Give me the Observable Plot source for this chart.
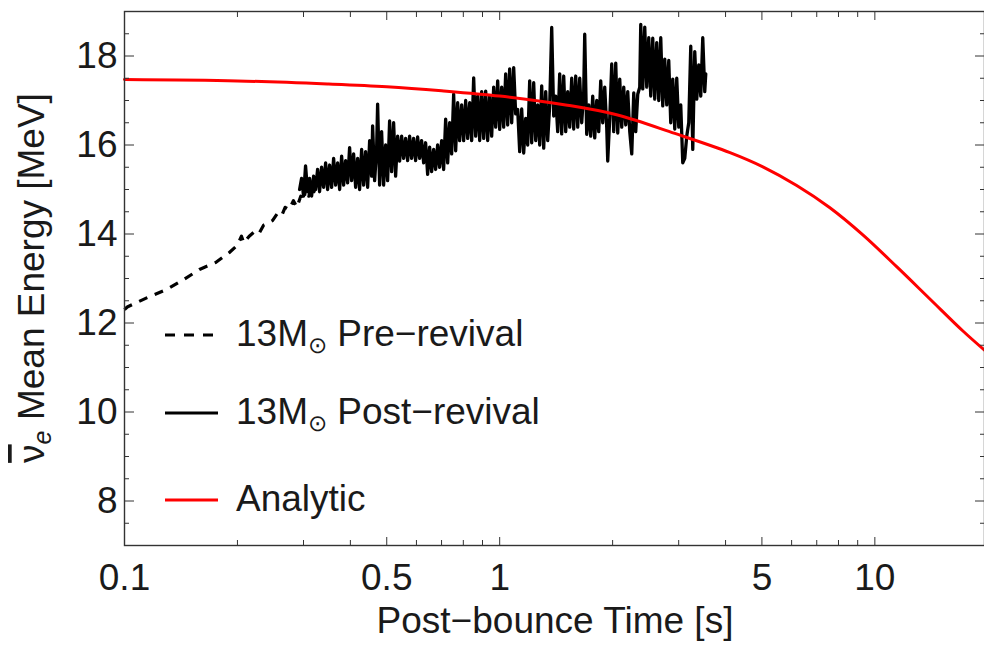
<!DOCTYPE html>
<html>
<head>
<meta charset="utf-8">
<script src="https://cdn.jsdelivr.net/npm/d3@7"></script>
<script src="https://cdn.jsdelivr.net/npm/@observablehq/plot@0.6"></script>
<style>
  html, body { margin: 0; padding: 0; background: #fff; }
  #chart { width: 984px; height: 654px; }
</style>
</head>
<body>
<div id="chart"></div>
<script>
// ---------------- data ----------------
const preTime = [0.1, 0.1017, 0.115, 0.130, 0.144, 0.159, 0.175, 0.190, 0.200, 0.205, 0.208, 0.215, 0.222, 0.228, 0.235, 0.242, 0.248, 0.255, 0.262, 0.268, 0.275, 0.282, 0.288, 0.295, 0.300, 0.305, 0.310, 0.315, 0.320, 0.325];
const preEnergy = [12.3, 12.36, 12.57, 12.76, 12.98, 13.21, 13.36, 13.58, 13.75, 13.95, 13.8, 13.95, 14.05, 14.0, 14.2, 14.25, 14.3, 14.45, 14.4, 14.6, 14.55, 14.75, 14.6, 14.85, 14.75, 15.05, 14.85, 15.1, 14.95, 15.2];

const postTime = [0.2929,0.2965,0.3001,0.3038,0.3076,0.3114,0.3153,0.3192,0.3231,0.3271,0.3311,0.3352,0.3394,0.3436,0.3478,0.3521,0.3565,0.3609,0.3654,0.3699,0.3745,0.3791,0.3838,0.3885,0.3933,0.3981,0.4030,0.4080,0.4131,0.4182,0.4233,0.4286,0.4339,0.4392,0.4447,0.4502,0.4557,
0.4585,0.4642,0.4699,0.4728,
0.4786,0.4845,0.4905,0.4966,0.5027,0.5089,0.5152,0.5216,0.5280,0.5346,0.5412,0.5479,0.5546,0.5615,0.5684,0.5754,0.5825,0.5897,0.5970,0.6044,0.6119,0.6194,0.6271,0.6348,0.6427,0.6506,0.6587,0.6668,0.6751,0.6834,0.6918,0.7004,0.7090,0.7178,0.7267,0.7356,0.7447,0.7539,0.7633,0.7727,0.7822,0.7919,0.8017,0.8116,0.8216,0.8318,0.8421,0.8525,0.8630,0.8737,0.8845,0.8954,0.9065,0.9177,0.9290,0.9405,0.9521,0.9639,0.9758,0.9878,1.0,1.0124,1.0249,1.0375,1.0503,1.0633,1.0765,1.0898,1.1032,1.1169,1.1307,1.1447,1.1588,1.1731,1.1876,1.2023,1.2172,1.2322,1.2474,1.2629,1.2784,1.2942,1.3102,1.3264,1.3428,1.3594,1.3762,1.3932,1.4104,1.4278,1.4454,1.4633,1.4814,1.4997,1.5182,1.5370,1.5560,1.5752,1.5947,1.6144,1.6343,1.6545,1.6749,
1.6853,1.7061,1.7272,1.7485,1.7701,1.7920,1.8141,1.8365,1.8592,1.8822,1.9055,1.9290,
1.9409,
1.9649,1.9892,2.0138,2.0387,2.0639,2.0894,2.1152,2.1413,2.1678,2.1946,2.2217,2.2491,2.2769,2.3050,2.3335,2.3623,
2.3769,
2.4063,2.4360,2.4661,2.4966,2.5274,2.5586,2.5902,2.6222,2.6546,2.6874,2.7206,2.7542,2.7882,2.8227,2.8575,2.8928,2.9286,2.9647,3.0014,3.0384,3.0760,3.1140,3.1524,3.1914,3.2308,3.2707,3.3111,3.3520,3.3934,3.4353,3.4777,3.5207,
3.5424];
const postEnergy = [15.0,15.25,14.85,15.53,14.95,15.25,14.85,15.3,15.0,15.45,14.95,15.5,15.05,15.6,15.0,15.55,15.05,15.7,15.1,15.6,15.0,15.75,15.1,15.65,15.15,15.94,15.2,15.8,15.05,15.7,15.0,15.9,15.1,15.85,15.05,16.1,15.3,
16.43,15.2,15.9,16.92,
15.1,16.3,15.1,16.0,15.2,16.54,15.4,16.5,15.3,16.2,15.64,16.2,15.7,16.15,15.65,16.2,15.7,16.15,15.65,16.18,15.7,16.1,15.6,16.05,15.34,15.95,15.4,15.9,15.45,16.0,15.5,16.1,15.45,16.58,15.6,16.5,15.8,17.14,15.87,16.95,16.1,16.9,16.1,17.0,16.15,16.95,16.1,17.51,16.2,17.1,16.1,17.2,16.15,17.21,16.1,17.1,16.2,17.3,16.4,17.44,16.35,17.3,16.4,17.6,16.45,17.71,16.5,17.74,16.7,16.8,15.85,16.81,15.82,16.6,16.0,17.44,16.05,17.4,16.1,16.9,16.0,17.33,15.93,17.2,16.1,16.9,18.64,16.65,17.1,16.3,17.6,16.25,17.55,16.3,17.2,16.4,17.5,16.36,17.55,16.4,17.5,16.5,17.2,
18.49,16.24,16.9,16.2,17.1,16.16,17.0,16.3,17.44,16.5,17.3,16.4,
15.64,
16.6,17.82,16.3,17.84,16.27,17.48,16.4,17.3,16.45,17.2,16.3,15.8,17.17,16.3,17.14,17.3,
18.71,
17.26,18.65,17.3,18.41,17.1,18.4,17.03,18.3,17.0,18.41,16.88,17.93,16.9,17.9,16.5,17.48,16.36,17.5,16.4,16.9,15.6,15.7,16.2,16.5,18.22,15.9,18.1,17.03,17.8,17.1,18.41,17.2,
17.6];

const analyticTime = [0.1, 0.2, 0.35, 0.5, 0.7, 1.0, 1.5, 2.05, 2.93, 4.11, 5.03, 6.19, 7.59, 9.29, 11.45, 14.02, 17.17, 19.6];
const analyticEnergy = [17.47, 17.44, 17.37, 17.31, 17.22, 17.1, 16.9, 16.68, 16.26, 15.83, 15.51, 15.09, 14.59, 13.98, 13.26, 12.54, 11.82, 11.39];

const xMajorTicks = [0.1, 0.5, 1, 5, 10];
const xMajorLabels = ["0.1", "0.5", "1", "5", "10"];
const xMinorTicks = [0.2, 0.3, 0.4, 0.6, 0.7, 0.8, 0.9, 2, 3, 4, 6, 7, 8, 9];
const yMajorTicks = [8, 10, 12, 14, 16, 18];
const yMinorTicks = [7.5, 8.5, 9, 9.5, 10.5, 11, 11.5, 12.5, 13, 13.5, 14.5, 15, 15.5, 16.5, 17, 17.5, 18.5];

const legendMain = ["13M", "13M", "Analytic"];
const legendSub = ["\u2299", "\u2299", ""];
const legendRest = [" Pre\u2212revival", " Post\u2212revival", ""];
const legendColors = ["#000000", "#000000", "#ff0000"];
const legendDash = ["10,9", null, null];

const xTitle = "Post\u2212bounce Time [s]";

// ---------------- tables ----------------
const pre = preTime.map((t, i) => ({t, e: preEnergy[i]}));
const post = postTime.map((t, i) => ({t, e: postEnergy[i]}));
const analytic = analyticTime.map((t, i) => ({t, e: analyticEnergy[i]}));

const FONT = "'Liberation Sans', Arial, Helvetica, sans-serif";
const FS = 37;
const AX = "#333333";
const TXT = "#1a1a1a";

const chart = Plot.plot({
  width: 984,
  height: 654,
  marginLeft: 124,
  marginRight: 0,
  marginTop: 11,
  marginBottom: 109,
  style: {fontFamily: FONT, fontSize: FS + "px", color: TXT, background: "#ffffff", overflow: "visible"},
  x: {type: "log", domain: [0.1, 19.6]},
  y: {domain: [7, 19]},
  marks: [
    Plot.line(pre, {x: "t", y: "e", stroke: "#000", strokeWidth: 3.2, strokeDasharray: "9,8", strokeLinecap: "butt"}),
    Plot.line(post, {x: "t", y: "e", stroke: "#000", strokeWidth: 3.3, strokeLinejoin: "round"}),
    Plot.line(analytic, {x: "t", y: "e", stroke: "#ff0000", strokeWidth: 3, curve: "catmull-rom"}),
    Plot.frame({stroke: AX, strokeWidth: 1.4}),
    // bottom axis
    Plot.axisX(xMinorTicks, {anchor: "bottom", tickSize: -5, tickFormat: () => "", label: null, stroke: AX}),
    Plot.axisX(xMajorTicks, {anchor: "bottom", tickSize: -8, tickPadding: 26, tickFormat: d => xMajorLabels[xMajorTicks.indexOf(d)], label: null, stroke: AX, fontSize: FS, fill: TXT}),
    // top axis (ticks only)
    Plot.axisX(xMinorTicks, {anchor: "top", tickSize: -5, tickFormat: () => "", label: null, stroke: AX}),
    Plot.axisX(xMajorTicks, {anchor: "top", tickSize: -8, tickFormat: () => "", label: null, stroke: AX}),
    // left axis
    Plot.axisY(yMinorTicks, {anchor: "left", tickSize: -5, tickFormat: () => "", label: null, stroke: AX}),
    Plot.axisY(yMajorTicks, {anchor: "left", tickSize: -10, tickPadding: 17, tickFormat: d => String(d), label: null, stroke: AX, fontSize: FS, fill: TXT}),
    // right axis (ticks only)
    Plot.axisY(yMinorTicks, {anchor: "right", tickSize: -5, tickFormat: () => "", label: null, stroke: AX}),
    Plot.axisY(yMajorTicks, {anchor: "right", tickSize: -10, tickFormat: () => "", label: null, stroke: AX})
  ]
});

document.getElementById("chart").appendChild(chart);

// ---------------- axis titles and legend ----------------
const svg = d3.select(chart);

// x title
svg.append("text")
  .attr("x", 555).attr("y", 633)
  .attr("text-anchor", "middle")
  .attr("font-family", FONT).attr("font-size", FS).attr("fill", TXT)
  .text(xTitle);

// y title:  ν̄_e Mean Energy [MeV]
const yt = svg.append("text")
  .attr("transform", "translate(44,278) rotate(-90)")
  .attr("text-anchor", "middle")
  .attr("font-family", FONT).attr("font-size", FS).attr("fill", TXT);
yt.append("tspan").attr("style", "text-decoration: overline").text("\u03BD");
yt.append("tspan").attr("font-size", FS * 0.68).attr("font-style", "italic").attr("dy", 7).text("e");
yt.append("tspan").attr("dy", -7).text(" Mean Energy [MeV]");

// legend
const legendRows = [335, 413, 500];
const lg = svg.append("g").attr("text-anchor", "start");
legendMain.forEach((m, i) => {
  const y = legendRows[i];
  const ln = lg.append("line")
    .attr("x1", 165).attr("x2", 218).attr("y1", y).attr("y2", y)
    .attr("stroke", legendColors[i]).attr("stroke-width", 3);
  if (legendDash[i]) ln.attr("stroke-dasharray", legendDash[i]);
  const t = lg.append("text")
    .attr("x", 236).attr("y", y + 11)
    .attr("text-anchor", "start")
    .attr("font-family", FONT).attr("font-size", FS).attr("fill", TXT);
  t.append("tspan").text(m);
  if (legendSub[i]) {
    t.append("tspan").attr("font-size", FS * 0.62).attr("dy", 7).text(legendSub[i]);
    t.append("tspan").attr("dy", -7).text(legendRest[i]);
  }
});
</script>
</body>
</html>
